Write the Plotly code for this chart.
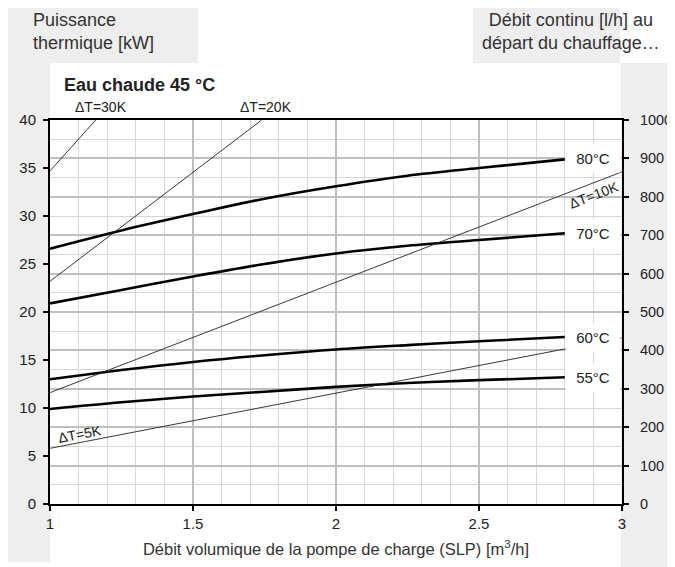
import plotly.graph_objects as go

FONT = "Liberation Sans, Arial, sans-serif"

# ---- data ----
flow = [1.0, 1.25, 1.5, 1.75, 2.0, 2.25, 2.5, 2.8]          # m3/h
p80 = [26.6, 28.5, 30.2, 31.8, 33.1, 34.2, 35.0, 35.9]      # kW
p70 = [20.9, 22.3, 23.7, 25.0, 26.1, 26.9, 27.5, 28.2]
p60 = [13.0, 13.95, 14.8, 15.5, 16.1, 16.55, 16.95, 17.4]
p55 = [9.9, 10.6, 11.2, 11.7, 12.2, 12.6, 12.9, 13.2]
curve_labels = ["80°C", "70°C", "60°C", "55°C"]
curve_label_y = [36.0, 28.2, 17.3, 13.2]

dt5_x, dt5_y = [1.0, 3.0], [5.8, 17.3]
dt10_x, dt10_y = [1.0, 3.0], [11.6, 34.6]
dt20_x, dt20_y = [1.0, 1.74], [23.2, 40.0]
dt30_x, dt30_y = [1.0, 1.16], [34.7, 40.0]

x_ticks = [1, 1.5, 2, 2.5, 3]
x_tick_text = ["1", "1.5", "2", "2.5", "3"]

# ---- figure geometry (page body has an 8px margin) ----
OFF = 8
W, H = 675 - OFF, 567 - OFF
ML, MR, MT, MB = 42, 53, 112, 63
PW, PH = W - ML - MR, H - MT - MB


def px(xw):  # window pixel -> paper
    return (xw - OFF - ML) / PW


def py(yw):
    return (H - MB - (yw - OFF)) / PH


fig = go.Figure()

for ys in [p80, p70, p60, p55]:
    fig.add_trace(go.Scatter(x=flow, y=ys, mode="lines", line=dict(color="black", width=2.6, shape="spline"),
                             showlegend=False, hoverinfo="skip"))

for xs, ys in [(dt5_x, dt5_y), (dt10_x, dt10_y), (dt20_x, dt20_y), (dt30_x, dt30_y)]:
    fig.add_trace(go.Scatter(x=xs, y=ys, mode="lines", line=dict(color="#222", width=0.9),
                             showlegend=False, hoverinfo="skip"))

# dummy trace for right axis
fig.add_trace(go.Scatter(x=[1], y=[0], yaxis="y2", mode="markers", marker=dict(opacity=0),
                         showlegend=False, hoverinfo="skip"))

grey = "#eeeeee"
shapes = [
    dict(type="rect", xref="paper", yref="paper", x0=px(OFF), x1=px(198), y0=py(63), y1=py(OFF),
         fillcolor=grey, line=dict(width=0), layer="below"),
    dict(type="rect", xref="paper", yref="paper", x0=px(OFF), x1=px(50), y0=py(562), y1=py(63),
         fillcolor=grey, line=dict(width=0), layer="below"),
    dict(type="rect", xref="paper", yref="paper", x0=px(473), x1=px(620), y0=py(63), y1=py(OFF),
         fillcolor=grey, line=dict(width=0), layer="below"),
    dict(type="rect", xref="paper", yref="paper", x0=px(621), x1=px(675), y0=py(567), y1=py(63),
         fillcolor=grey, line=dict(width=0), layer="below"),
]

ann = [
    dict(text="<b>Eau chaude 45 °C</b>", x=px(62), y=py(85), xref="paper", yref="paper",
         xanchor="left", yanchor="middle", showarrow=False, font=dict(size=18, color="#222")),
    dict(text="Puissance<br>thermique [kW]", x=px(31), y=py(31), xref="paper", yref="paper",
         xanchor="left", yanchor="middle", align="left", showarrow=False, font=dict(size=18, color="#333")),
    dict(text="Débit continu [l/h] au<br>départ du chauffage…", x=px(571), y=py(31), xref="paper", yref="paper",
         xanchor="center", yanchor="middle", align="center", showarrow=False, font=dict(size=18, color="#333")),
    dict(text="ΔT=30K", x=px(101), y=py(107), xref="paper", yref="paper", xanchor="center", yanchor="middle",
         showarrow=False, font=dict(size=14, color="#222")),
    dict(text="ΔT=20K", x=px(266), y=py(107), xref="paper", yref="paper", xanchor="center", yanchor="middle",
         showarrow=False, font=dict(size=14, color="#222")),
    dict(text="ΔT=10K", x=2.902, y=32.2, xref="x", yref="y", textangle=-21, xanchor="center", yanchor="middle",
         showarrow=False, font=dict(size=14, color="#222")),
    dict(text="ΔT=5K", x=1.105, y=7.3, xref="x", yref="y", textangle=-11, xanchor="center", yanchor="middle",
         showarrow=False, font=dict(size=14, color="#222")),
]
for lab, yv in zip(curve_labels, curve_label_y):
    ann.append(dict(text=lab, x=2.897, y=yv, xref="x", yref="y", showarrow=False,
                    xanchor="center", yanchor="middle",
                    bgcolor="white", width=52, height=25, font=dict(size=15, color="#222")))

grid_major = "#bfbfbf"
grid_minor = "#d6d6d6"

fig.update_layout(
    width=W, height=H,
    margin=dict(l=ML, r=MR, t=MT, b=MB, pad=0, autoexpand=False),
    paper_bgcolor="white", plot_bgcolor="white",
    font=dict(family=FONT, size=15, color="#222"),
    shapes=shapes, annotations=ann,
    xaxis=dict(range=[1, 3], tickvals=x_ticks, ticktext=x_tick_text, automargin=False,
               showgrid=True, gridcolor=grid_major, gridwidth=2,
               minor=dict(dtick=0.1, tick0=1, showgrid=True, gridcolor=grid_minor, gridwidth=1),
               showline=True, linecolor="black", linewidth=2, mirror=True,
               ticks="outside", ticklen=5, tickcolor="black", tickwidth=1.5,
               zeroline=False,
               title=dict(text="Débit volumique de la pompe de charge (SLP) [m<sup>3</sup>/h]",
                          font=dict(size=16.5, color="#333"), standoff=12)),
    yaxis=dict(range=[0, 40], dtick=5, tick0=0, showgrid=False, zeroline=False, automargin=False,
               showline=True, linecolor="black", linewidth=2, ticklabelstandoff=4,
               ticks="outside", ticklen=5, tickcolor="black", tickwidth=1.5),
    yaxis2=dict(range=[0, 1000], dtick=100, tick0=0, overlaying="y", side="right", automargin=False,
                showgrid=True, gridcolor=grid_major, gridwidth=2,
                minor=dict(dtick=50, tick0=0, showgrid=True, gridcolor=grid_minor, gridwidth=1),
                zeroline=False, showline=True, linecolor="black", linewidth=2, ticklabelstandoff=8,
                ticks="outside", ticklen=5, tickcolor="black", tickwidth=1.5, tickfont=dict(size=14.5)),
)

fig.write_html("out.html")
